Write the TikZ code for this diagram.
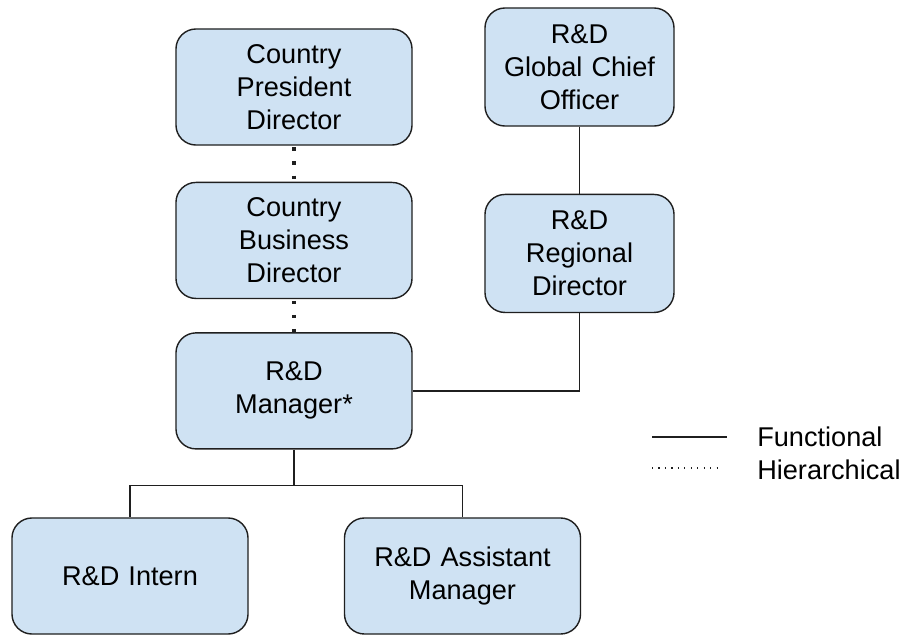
\documentclass[tikz,border=0pt]{standalone}
\usepackage{fontspec}
\setmainfont{Liberation Sans}
\usetikzlibrary{positioning}
\definecolor{boxblue}{HTML}{CFE2F3}
\definecolor{boxline}{HTML}{1F1F1F}
\tikzset{
    org_box/.style={
        rectangle,
        rounded corners=0.5cm,
        draw=boxline,
        fill=boxblue,
        line width=1pt,
        minimum width=5.9cm,
        minimum height=2.9cm,
        text width=5.5cm,
        inner sep=0pt,
        align=center,
        font=\fontsize{19.3}{23.5}\selectfont
    },
    org_narrow/.style={
        org_box,
        minimum width=4.725cm,
        minimum height=2.95cm,
        text width=4.4cm
    },
    functional/.style={
        draw=boxline,
        line width=1pt
    },
    hierarchical/.style={
        draw=boxline,
        line width=2.2pt,
        dash pattern=on 2.2pt off 7.8pt,
        dash phase=-1.2pt
    },
    legend_dots/.style={
        draw=boxline,
        line width=0.8pt,
        dash pattern=on 0.8pt off 3.8pt
    },
    legend_text/.style={
        anchor=west,
        inner sep=0pt,
        font=\fontsize{19.3}{23.5}\selectfont
    }
}

\begin{document}
\begin{tikzpicture}[x=0.025cm, y=-0.025cm]
\useasboundingbox (0,0) rectangle (904,634);

% --- Country line ---
\node[org_box] (CPD) at (294,87) {Country\\President\\Director};
\node[org_box, below=0.9cm of CPD] (CBD) {Country\\Business\\Director};
\node[org_box, below=0.825cm of CBD] (Manager) {R\&D\\Manager*};

% --- Global R&D line ---
\node[org_narrow] (Global) at (579.5,67) {R\&D\\Global Chief\\Officer};
\node[org_narrow, below=1.675cm of Global] (Regional) {R\&D\\Regional\\Director};

% --- Team ---
\node[org_box] (Intern) at (130,576) {R\&D Intern};
\node[org_box] (Assistant) at (462.5,576) {R\&D Assistant\\Manager};

% --- Edges ---
\draw[hierarchical] (CPD) -- (CBD);
\draw[hierarchical] (CBD) -- (Manager);
\draw[functional] (Global) -- (Regional);
\draw[functional] (Regional.south) |- (Manager.east);
\coordinate (split) at ([yshift=-0.9cm]Manager.south);
\draw[functional] (Manager.south) -- (split);
\draw[functional] (split) -| (Intern.north);
\draw[functional] (split) -| (Assistant.north);

% --- Legend ---
\coordinate (FuncStart) at (652,437);
\coordinate (FuncEnd) at (727,437);
\coordinate (HierStart) at (652,468);
\coordinate (HierEnd) at (720,468);
\draw[functional] (FuncStart) -- (FuncEnd);
\draw[legend_dots] (HierStart) -- (HierEnd);
\node[legend_text] (FuncLabel) at (757,437) {Functional};
\node[legend_text] (HierLabel) at (757,470) {Hierarchical};

\end{tikzpicture}
\end{document}
